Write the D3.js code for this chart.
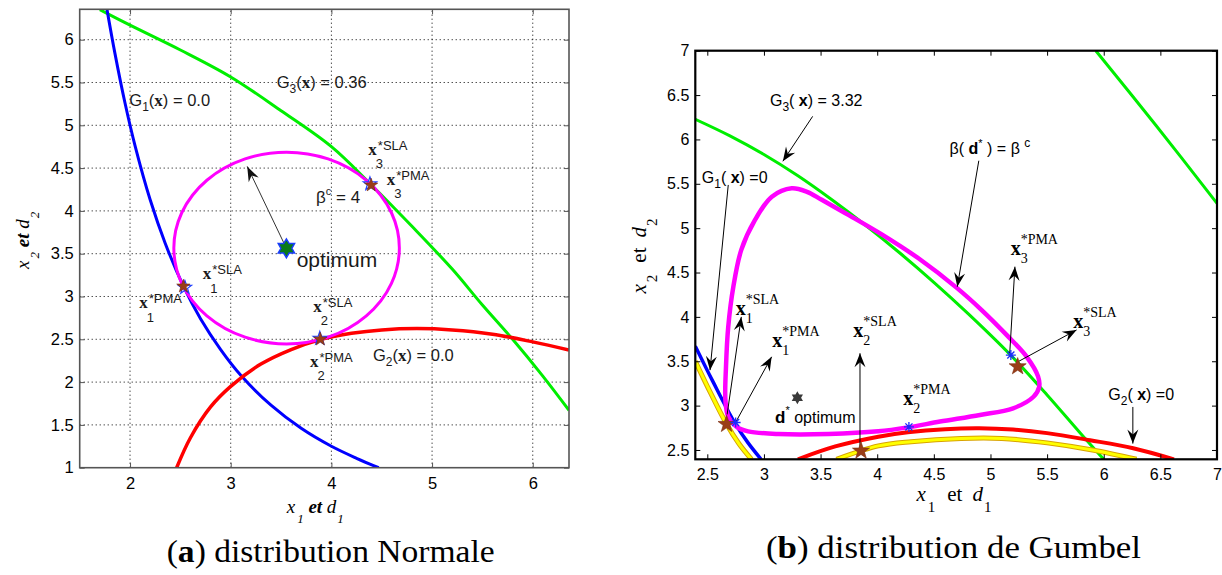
<!DOCTYPE html>
<html><head><meta charset="utf-8">
<script src="https://cdn.jsdelivr.net/npm/d3@7/dist/d3.min.js"></script>
<style>
body{margin:0;background:#fff;}
svg{display:block;font-family:"Liberation Sans",Arial,sans-serif;}
text{white-space:pre;}
</style></head><body>
<svg id="fig" width="1222" height="575"></svg>
<script>
// ================= DATA : panel (a) distribution Normale =================
const aXDomain = [1.5, 6.36];
const aYDomain = [1, 6.355];
const aXTicks = [2, 3, 4, 5, 6];
const aYTicks = [1, 1.5, 2, 2.5, 3, 3.5, 4, 4.5, 5, 5.5, 6];
const aG1 = [[1.77,6.36],[1.85,5.84],[1.95,5.26],[2.05,4.76],[2.2,4.13],[2.35,3.62],[2.53,3.12],[2.7,2.74],[2.9,2.38],[3.1,2.08],[3.4,1.73],[3.7,1.46],[4.0,1.25],[4.25,1.11],[4.47,1.0]];
const aG2 = [[2.463,1.0],[2.6,1.35],[2.8,1.71],[3.0,1.95],[3.3,2.21],[3.6,2.38],[3.9,2.50],[4.2,2.57],[4.5,2.61],[4.85,2.625],[5.2,2.61],[5.6,2.56],[6.0,2.47],[6.36,2.375]];
const aG3 = [[1.70,6.35],[2.0,6.17],[2.5,5.88],[3.0,5.565],[3.5,5.17],[4.0,4.75],[4.4,4.30],[4.8,3.82],[5.2,3.32],[5.5,2.90],[5.8,2.50],[6.1,2.07],[6.36,1.67]];
const aBetaCenter = [3.555, 3.566];
const aBetaRadius = 1.12;
const aOptimum = [3.553, 3.563];
const aPMA = [[2.53,3.12],[3.89,2.50],[4.395,4.30]];
const aSLA = [[2.545,3.105],[3.885,2.51],[4.383,4.315]];
const aArrow = [[3.553,3.563],[3.164,4.52]];
const aGLabels = [
  {pos:[1.993,5.225], idx:'1', val:' = 0.0'},
  {pos:[3.457,5.430], idx:'3', val:' = 0.36'},
  {pos:[4.413,2.244], idx:'2', val:' = 0.0'}
];
const aBetaLabelPos = [3.847, 4.092];
const aOptLabelPos = [3.655, 3.341];
const aPointLabels = [
  {pos:[4.367,4.653], sup:'*SLA', sub:'3'},
  {pos:[4.549,4.303], sup:'*PMA', sub:'3'},
  {pos:[2.722,3.201], sup:'*SLA', sub:'1'},
  {pos:[2.092,2.862], sup:'*PMA', sub:'1'},
  {pos:[3.820,2.822], sup:'*SLA', sub:'2'},
  {pos:[3.787,2.180], sup:'*PMA', sub:'2'}
];

// ================= DATA : panel (b) distribution de Gumbel =================
const bXDomain = [2.394, 7];
const bYDomain = [2.395, 7];
const bXTicks = [2.5, 3, 3.5, 4, 4.5, 5, 5.5, 6, 6.5, 7];
const bYTicks = [2.5, 3, 3.5, 4, 4.5, 5, 5.5, 6, 6.5, 7];
const bG1 = [[2.394,3.67],[2.55,3.27],[2.745,2.80],[2.86,2.58],[2.975,2.395]];
const bG1b = [[2.394,3.50],[2.53,3.14],[2.671,2.79],[2.78,2.57],[2.89,2.395]];
const bG2 = [[3.30,2.395],[3.63,2.54],[4.01,2.65],[4.27,2.70],[4.6,2.735],[4.9,2.745],[5.2,2.73],[5.5,2.69],[5.88,2.61],[6.26,2.52],[6.62,2.395]];
const bG2b = [[3.64,2.395],[4.01,2.546],[4.30,2.594],[4.74,2.63],[5.1,2.63],[5.5,2.58],[5.9,2.50],[6.29,2.395]];
const bG3 = [[2.394,6.227],[2.7,6.04],[3.0,5.83],[3.3,5.59],[3.6,5.32],[3.9,5.03],[4.2,4.72],[4.5,4.39],[4.8,4.04],[5.17,3.58],[5.5,3.12],[5.8,2.68],[6.0,2.395]];
const bG3far = [[5.93,7.0],[6.46,6.16],[7.0,5.28]];
const bBeta = [[3.245,5.45],[3.38,5.41],[3.51,5.32],[3.745,5.15],[4.04,4.93],[4.37,4.655],[4.70,4.33],[4.92,4.08],[5.14,3.80],[5.32,3.55],[5.42,3.33],[5.43,3.21],[5.38,3.10],[5.20,2.97],[4.907,2.895],[4.554,2.82],[4.274,2.755],[4.01,2.71],[3.57,2.68],[3.127,2.68],[2.86,2.71],[2.76,2.76],[2.685,2.876],[2.66,3.06],[2.665,3.44],[2.685,3.89],[2.73,4.34],[2.80,4.755],[2.92,5.09],[3.07,5.355]];
const bPMA = [[2.67,2.79],[3.857,2.49],[5.24,3.44]];
const bSLA = [[2.75,2.81],[4.28,2.76],[5.18,3.57]];
const bOptimum = [3.295, 3.09];
const bArrows = [
  [[3.43,6.26],[3.167,5.754]],
  [[4.897,5.76],[4.707,4.34]],
  [[2.685,5.487],[2.524,3.40]],
  [[2.675,2.90],[2.80,4.00]],
  [[2.745,2.80],[3.068,3.55]],
  [[3.848,2.48],[3.848,3.59]],
  [[5.17,3.59],[5.216,4.566]],
  [[5.245,3.496],[5.76,3.853]],
  [[6.257,2.985],[6.257,2.572]]
];
const bGLabels = [
  {pos:[3.053,6.377], idx:'3', val:') = 3.32'},
  {pos:[2.451,5.506], idx:'1', val:') =0'},
  {pos:[6.040,3.068], idx:'2', val:') =0'}
];
const bBetaLabelPos = [4.639, 5.836];
const bOptLabelPos = [3.098, 2.808];
const bPointLabels = [
  {pos:[5.178,4.698], sup:'*PMA', sub:'3'},
  {pos:[5.730,3.872], sup:'*SLA', sub:'3'},
  {pos:[2.751,4.022], sup:'*SLA', sub:'1'},
  {pos:[3.074,3.665], sup:'*PMA', sub:'1'},
  {pos:[3.789,3.777], sup:'*SLA', sub:'2'},
  {pos:[4.230,3.008], sup:'*PMA', sub:'2'}
];
const captions = ['distribution Normale', 'distribution de Gumbel'];
const captionLetters = ['a', 'b'];

// ================= DRAWING =================
const SERIF = '"Liberation Serif","Times New Roman",serif';
const SANS = '"Liberation Sans",Arial,sans-serif';
const svg = d3.select('#fig');
const defs = svg.append('defs');

function starPath(R, r, n) {
  const pts = [];
  for (let i = 0; i < 2*n; i++) {
    const a = -Math.PI/2 + i*Math.PI/n;
    const rr = i % 2 === 0 ? R : r;
    pts.push([rr*Math.cos(a), rr*Math.sin(a)]);
  }
  return d3.line()(pts) + 'Z';
}
function asteriskPath(R) {
  const p = d3.path();
  for (let k = 0; k < 4; k++) {
    const a = k*Math.PI/4;
    p.moveTo(-R*Math.cos(a), -R*Math.sin(a));
    p.lineTo(R*Math.cos(a), R*Math.sin(a));
  }
  return p.toString();
}
function arrowHead(g, p0, p1, L, W, N, fill) {
  const ang = Math.atan2(p1[1]-p0[1], p1[0]-p0[0]) * 180/Math.PI;
  g.append('path')
    .attr('d', `M0,0L${-L},${-W}L${-N},0L${-L},${W}Z`)
    .attr('transform', `translate(${p1[0]},${p1[1]}) rotate(${ang})`)
    .attr('fill', fill);
}
function rich(g, X, Y, parts, base) {
  const t = g.append('text').attr('x', X).attr('y', Y)
    .attr('font-size', base.size).attr('fill', base.fill || '#000')
    .attr('font-family', base.family || SANS);
  if (base.anchor) t.attr('text-anchor', base.anchor);
  if (base.rotate) t.attr('transform', `rotate(-90,${X},${Y})`);
  let shift = 0;
  parts.forEach(p => {
    const s = t.append('tspan').text(p.t);
    const target = p.sub ? p.sub : p.sup ? -p.sup : 0;
    if (target - shift !== 0) s.attr('dy', target - shift);
    shift = target;
    if (p.size) s.attr('font-size', p.size);
    if (p.bold) s.attr('font-weight', 'bold');
    if (p.italic) s.attr('font-style', 'italic');
    if (p.family) s.attr('font-family', p.family);
    if (p.dx) s.attr('dx', p.dx);
  });
  return t;
}
function stacked(g, X, Y, sup, sub, st) {
  const b = g.append('text').attr('x', X).attr('y', Y)
    .attr('font-family', SERIF).attr('font-weight', 'bold')
    .attr('font-size', st.xSize).attr('fill', st.fill).text('x');
  const w = b.node().getComputedTextLength();
  g.append('text').attr('x', X + w + st.supDx).attr('y', Y + st.supDy)
    .attr('font-family', st.family).attr('font-size', st.supSize).attr('fill', st.fill).text(sup);
  g.append('text').attr('x', X + w + st.subDx).attr('y', Y + st.subDy)
    .attr('font-family', st.family).attr('font-size', st.subSize).attr('fill', st.fill).text(sub);
}
function axes(g, x, y, xt, yt, opt) {
  const [x0, x1] = x.range(), [y0, y1] = y.range();
  const fmt = d => String(d);
  const style = sel => {
    sel.select('.domain').remove();
    sel.selectAll('.tick line').attr('stroke', opt.color).attr('stroke-width', opt.tickW);
    sel.selectAll('.tick text').attr('font-family', SANS).attr('font-size', opt.font).attr('fill', '#000');
  };
  g.append('g').attr('transform', `translate(0,${y0})`)
    .call(d3.axisBottom(x).tickValues(xt).tickSize(-opt.tick).tickPadding(opt.xpad).tickFormat(fmt)).call(style);
  g.append('g').attr('transform', `translate(0,${y1})`)
    .call(d3.axisTop(x).tickValues(xt).tickSize(-opt.tick).tickFormat('')).call(style);
  g.append('g').attr('transform', `translate(${x0},0)`)
    .call(d3.axisLeft(y).tickValues(yt).tickSize(-opt.tick).tickPadding(opt.ypad).tickFormat(fmt)).call(style);
  g.append('g').attr('transform', `translate(${x1},0)`)
    .call(d3.axisRight(y).tickValues(yt).tickSize(-opt.tick).tickFormat('')).call(style);
  g.append('rect').attr('x', x0).attr('y', y1).attr('width', x1 - x0).attr('height', y0 - y1)
    .attr('fill', 'none').attr('stroke', opt.color).attr('stroke-width', opt.boxW);
}

// ---------------- panel (a) ----------------
{
  const x = d3.scaleLinear().domain(aXDomain).range([79.7, 569]);
  const y = d3.scaleLinear().domain(aYDomain).range([467.7, 9.3]);
  const g = svg.append('g');
  defs.append('clipPath').attr('id', 'clipA').append('rect')
    .attr('x', 79.7).attr('y', 9.3).attr('width', 569 - 79.7).attr('height', 467.7 - 9.3);
  const grid = g.append('g').attr('stroke', '#000').attr('stroke-width', 1).attr('stroke-dasharray', '1,3');
  aXTicks.forEach(t => grid.append('line').attr('x1', x(t)).attr('x2', x(t)).attr('y1', y.range()[0]).attr('y2', y.range()[1]));
  aYTicks.filter(t => t > aYDomain[0]).forEach(t => grid.append('line').attr('y1', y(t)).attr('y2', y(t)).attr('x1', x.range()[0]).attr('x2', x.range()[1]));
  const line = d3.line().x(d => x(d[0])).y(d => y(d[1])).curve(d3.curveCatmullRom.alpha(0.5));
  const cg = g.append('g').attr('clip-path', 'url(#clipA)').attr('fill', 'none');
  cg.append('path').attr('d', line(aG3)).attr('stroke', '#00ee00').attr('stroke-width', 3);
  cg.append('path').attr('d', line(aG1)).attr('stroke', '#0000ff').attr('stroke-width', 3);
  cg.append('path').attr('d', line(aG2)).attr('stroke', '#ff0000').attr('stroke-width', 3.5);
  cg.append('ellipse').attr('cx', x(aBetaCenter[0])).attr('cy', y(aBetaCenter[1]))
    .attr('rx', x(aBetaCenter[0] + aBetaRadius) - x(aBetaCenter[0]))
    .attr('ry', y(aBetaCenter[1]) - y(aBetaCenter[1] + aBetaRadius))
    .attr('stroke', '#ff00ff').attr('stroke-width', 3);
  axes(g, x, y, aXTicks, aYTicks, {color:'#555', tickW:1, boxW:1.6, tick:5, font:16.5, xpad:10, ypad:6});
  const p0 = [x(aArrow[0][0]), y(aArrow[0][1])], p1 = [x(aArrow[1][0]), y(aArrow[1][1])];
  g.append('line').attr('x1', p0[0]).attr('y1', p0[1]).attr('x2', p1[0]).attr('y2', p1[1])
    .attr('stroke', '#333').attr('stroke-width', 1);
  arrowHead(g, p0, p1, 15, 5.5, 10, '#111');
  aSLA.forEach(d => g.append('path').attr('d', starPath(7, 2.8, 5))
    .attr('transform', `translate(${x(d[0])},${y(d[1])})`).attr('fill', 'none').attr('stroke', '#2040ff').attr('stroke-width', 1.2));
  aPMA.forEach(d => g.append('path').attr('d', starPath(7, 2.8, 5))
    .attr('transform', `translate(${x(d[0])},${y(d[1])})`).attr('fill', '#9a3d16').attr('stroke', '#7a2e10').attr('stroke-width', 0.6));
  g.append('path').attr('d', starPath(9.5, 5.5, 6))
    .attr('transform', `translate(${x(aOptimum[0])},${y(aOptimum[1])})`)
    .attr('fill', '#0a7a1a').attr('stroke', '#1a3cff').attr('stroke-width', 1.4);
  const tc = '#1a1a1a';
  aGLabels.forEach(L => rich(g, x(L.pos[0]), y(L.pos[1]), [
    {t:'G'}, {t:L.idx, sub:5, size:12}, {t:'('}, {t:'x', bold:true, family:SERIF, size:17}, {t:')' + L.val}
  ], {size:16.5, fill:tc}));
  rich(g, x(aBetaLabelPos[0]), y(aBetaLabelPos[1]), [
    {t:'β'}, {t:'c', sup:8, size:11}, {t:' = 4'}
  ], {size:17, fill:tc});
  g.append('text').attr('x', x(aOptLabelPos[0])).attr('y', y(aOptLabelPos[1]))
    .attr('font-size', 21).attr('fill', tc).text('optimum');
  aPointLabels.forEach(L => stacked(g, x(L.pos[0]), y(L.pos[1]), L.sup, L.sub,
    {xSize:17, fill:tc, family:SANS, supSize:13, subSize:13, supDx:1, supDy:-5, subDx:-1, subDy:13.5}));
  rich(g, 286.7, 513.3, [
    {t:'x', italic:true}, {t:'1', italic:true, sub:10, size:13, dx:2}, {t:' et ', italic:true, bold:true}, {t:'d', italic:true}, {t:'1', italic:true, sub:10, size:13, dx:1}
  ], {size:19, family:SERIF});
  rich(g, 29, 240.3, [
    {t:'x', italic:true}, {t:'2', italic:true, sub:10, size:13, dx:2}, {t:' et ', italic:true, bold:true}, {t:'d', italic:true}, {t:'2', italic:true, sub:10, size:13, dx:1}
  ], {size:19, family:SERIF, anchor:'middle', rotate:true});
}

// ---------------- panel (b) ----------------
{
  const x = d3.scaleLinear().domain(bXDomain).range([695.3, 1217]);
  const y = d3.scaleLinear().domain(bYDomain).range([459.3, 50.7]);
  const g = svg.append('g');
  defs.append('clipPath').attr('id', 'clipB').append('rect')
    .attr('x', 695.3).attr('y', 50.7).attr('width', 1217 - 695.3).attr('height', 459.3 - 50.7);
  const line = d3.line().x(d => x(d[0])).y(d => y(d[1])).curve(d3.curveCatmullRom.alpha(0.5));
  const loop = d3.line().x(d => x(d[0])).y(d => y(d[1])).curve(d3.curveCatmullRomClosed.alpha(0.5));
  const cg = g.append('g').attr('clip-path', 'url(#clipB)').attr('fill', 'none');
  cg.append('path').attr('d', line(bG3)).attr('stroke', '#00ee00').attr('stroke-width', 3);
  cg.append('path').attr('d', line(bG3far)).attr('stroke', '#00ee00').attr('stroke-width', 3);
  [bG1b, bG2b].forEach(c => {
    cg.append('path').attr('d', line(c)).attr('stroke', '#d9a400').attr('stroke-width', 5);
    cg.append('path').attr('d', line(c)).attr('stroke', '#ffff00').attr('stroke-width', 3);
  });
  cg.append('path').attr('d', line(bG1)).attr('stroke', '#0000ff').attr('stroke-width', 3.5);
  cg.append('path').attr('d', line(bG2)).attr('stroke', '#ff0000').attr('stroke-width', 4);
  cg.append('path').attr('d', loop(bBeta)).attr('stroke', '#ff00ff').attr('stroke-width', 4.5);
  axes(g, x, y, bXTicks, bYTicks, {color:'#000', tickW:1, boxW:2.2, tick:5, font:16, xpad:9, ypad:6});
  bArrows.forEach(a => {
    const p0 = [x(a[0][0]), y(a[0][1])], p1 = [x(a[1][0]), y(a[1][1])];
    g.append('line').attr('x1', p0[0]).attr('y1', p0[1]).attr('x2', p1[0]).attr('y2', p1[1])
      .attr('stroke', '#000').attr('stroke-width', 1);
    arrowHead(g, p0, p1, 14, 5.5, 9, '#000');
  });
  bPMA.forEach(d => g.append('path').attr('d', starPath(9, 3.6, 5))
    .attr('transform', `translate(${x(d[0])},${y(d[1])})`).attr('fill', '#9a3d16').attr('stroke', '#7a2e10').attr('stroke-width', 0.6));
  bSLA.forEach(d => g.append('path').attr('d', asteriskPath(5))
    .attr('transform', `translate(${x(d[0])},${y(d[1])})`).attr('stroke', '#1a2cff').attr('stroke-width', 1.3).attr('fill', 'none'));
  g.append('path').attr('d', starPath(6.5, 3.75, 6))
    .attr('transform', `translate(${x(bOptimum[0])},${y(bOptimum[1])})`).attr('fill', '#3a3a3a');
  bGLabels.forEach(L => rich(g, x(L.pos[0]), y(L.pos[1]), [
    {t:'G'}, {t:L.idx, sub:5, size:12}, {t:'( '}, {t:'x', bold:true}, {t:L.val}
  ], {size:16}));
  rich(g, x(bBetaLabelPos[0]), y(bBetaLabelPos[1]), [
    {t:'β( '}, {t:'d', bold:true}, {t:'*', sup:7, size:11}, {t:' ) = β '}, {t:'c', sup:7, size:12}
  ], {size:16});
  rich(g, x(bOptLabelPos[0]), y(bOptLabelPos[1]), [
    {t:'d', bold:true, size:17}, {t:'*', sup:9, size:11}, {t:' optimum'}
  ], {size:16});
  bPointLabels.forEach(L => stacked(g, x(L.pos[0]), y(L.pos[1]), L.sup, L.sub,
    {xSize:20, fill:'#000', family:SERIF, supSize:14, subSize:14, supDx:0, supDy:-11, subDx:0, subDy:8}));
  rich(g, 916.4, 500.5, [
    {t:'x', italic:true}, {t:'1', sub:11, size:15, dx:2}, {t:'et', dx:12}, {t:'d', italic:true, dx:10}, {t:'1', sub:11, size:15, dx:1}
  ], {size:21, family:SERIF});
  rich(g, 646, 256, [
    {t:'x', italic:true}, {t:'2', sub:11, size:15, dx:2}, {t:'et', dx:12}, {t:'d', italic:true, dx:10}, {t:'2', sub:11, size:15, dx:1}
  ], {size:21, family:SERIF, anchor:'middle', rotate:true});
}

// ---------------- captions ----------------
[[166.7, 562, 328], [766, 558, 375]].forEach((c, i) => {
  const t = rich(svg, c[0], c[1], [
    {t:'('}, {t:captionLetters[i], bold:true}, {t:') ' + captions[i]}
  ], {size:31, family:SERIF});
  t.attr('textLength', c[2]).attr('lengthAdjust', 'spacingAndGlyphs');
});
</script>
</body></html>
